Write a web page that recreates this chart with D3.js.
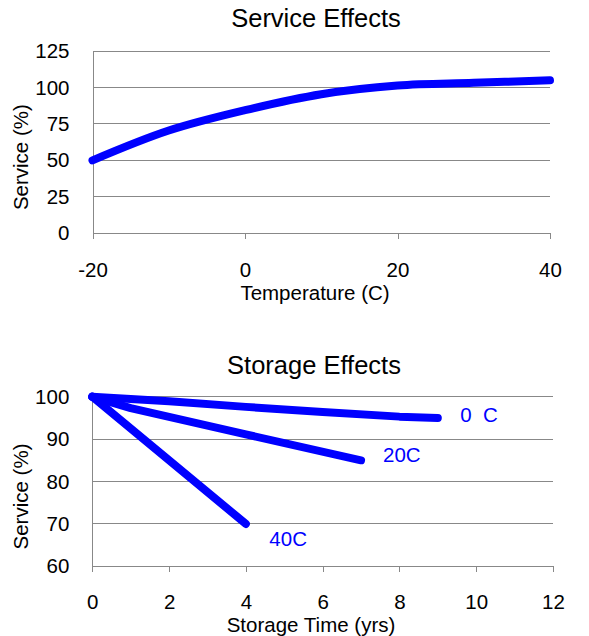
<!DOCTYPE html>
<html>
<head>
<meta charset="utf-8">
<script src="https://cdn.jsdelivr.net/npm/d3@7"></script>
<style>
  html, body { margin: 0; padding: 0; background: #fff; }
  svg { display: block; font-family: "Liberation Sans", Arial, sans-serif; }
</style>
</head>
<body>
<svg id="chart" width="589" height="636"></svg>
<script>
// ---- Data ----
// Chart 1: Service Effects
const tempTicks = [-20, 0, 20, 40];
const serviceTicks = [0, 25, 50, 75, 100, 125];
const temperature = [-20, -10, 0, 10, 20, 30, 40];
const serviceByTemp = [50, 70.5, 84.5, 95.5, 101.5, 103.3, 105];

// Chart 2: Storage Effects
const timeTicks = [0, 2, 4, 6, 8, 10, 12];
const storageServiceTicks = [60, 70, 80, 90, 100];
const seriesNames = ["0  C", "20C", "40C"];
const time0C = [0, 2, 4, 6, 8, 9];
const service0C = [100, 98.9, 97.6, 96.4, 95.3, 95];
const time20C = [0, 1, 4, 7];
const service20C = [100, 97.3, 91.1, 85];
const time40C = [0, 4];
const service40C = [100, 70];

// ---- Drawing ----
const svg = d3.select("#chart");
const GRID = "#888888";
const BLUE = "#0000ff";
const FS = 20.5;
const fmt = d => String(d);

function drawPanel(opts) {
  const g = svg.append("g");
  const x = opts.x, y = opts.y;
  const [x0, x1] = x.range();
  const [yb, yt] = y.range();

  // gridlines
  g.append("g").selectAll("line")
    .data(opts.yTicks.filter(v => v !== y.domain()[0]))
    .join("line")
    .attr("x1", x0).attr("x2", x1)
    .attr("y1", d => y(d)).attr("y2", d => y(d))
    .attr("stroke", GRID).attr("stroke-width", 1)
    .attr("shape-rendering", "crispEdges");

  // x axis
  const xa = g.append("g")
    .attr("transform", `translate(0,${yb})`)
    .call(d3.axisBottom(x).tickValues(opts.xTicks).tickFormat(fmt)
      .tickSize(6).tickPadding(opts.xPad).tickSizeOuter(0));
  xa.select(".domain").attr("stroke", GRID).attr("shape-rendering", "crispEdges");
  xa.selectAll(".tick line").attr("stroke", GRID).attr("shape-rendering", "crispEdges");
  xa.selectAll("text").attr("font-size", FS).attr("fill", "#000")
    .attr("font-family", "Liberation Sans, Arial, sans-serif");

  // y axis
  const ya = g.append("g")
    .attr("transform", `translate(${x0},0)`)
    .call(d3.axisLeft(y).tickValues(opts.yTicks).tickFormat(fmt)
      .tickSize(0).tickPadding(23).tickSizeOuter(0));
  ya.select(".domain").attr("stroke", GRID).attr("shape-rendering", "crispEdges");
  ya.selectAll("text").attr("font-size", FS).attr("fill", "#000").attr("dy", "0.32em")
    .attr("font-family", "Liberation Sans, Arial, sans-serif");

  // title
  g.append("text").attr("x", opts.titleX).attr("y", opts.titleY)
    .attr("text-anchor", "middle").attr("font-size", 25.5).attr("fill", "#000")
    .text(opts.title);

  // x axis title
  g.append("text").attr("x", opts.xTitleX).attr("y", opts.xTitleY)
    .attr("text-anchor", "middle").attr("font-size", FS).attr("fill", "#000")
    .text(opts.xTitle);

  // y axis title
  g.append("text")
    .attr("transform", `translate(28,${(yb + yt) / 2 + 15}) rotate(-90)`)
    .attr("text-anchor", "middle").attr("font-size", FS).attr("fill", "#000")
    .text(opts.yTitle);

  return g;
}

// Panel 1
const x1s = d3.scaleLinear().domain([-20, 40]).range([92.5, 550]);
const y1s = d3.scaleLinear().domain([0, 125]).range([233, 51.3]);
const g1 = drawPanel({
  x: x1s, y: y1s, xTicks: tempTicks, yTicks: serviceTicks, xPad: 23.5,
  title: "Service Effects", titleX: 316, titleY: 27.3,
  xTitle: "Temperature (C)", xTitleX: 315, xTitleY: 300,
  yTitle: "Service (%)"
});
const line1 = d3.line()
  .x(d => x1s(d[0])).y(d => y1s(d[1]))
  .curve(d3.curveCatmullRom.alpha(0.5));
g1.append("path")
  .datum(temperature.map((t, i) => [t, serviceByTemp[i]]))
  .attr("d", line1)
  .attr("fill", "none").attr("stroke", BLUE).attr("stroke-width", 8)
  .attr("stroke-linecap", "round").attr("stroke-linejoin", "round");

// Panel 2
const x2s = d3.scaleLinear().domain([0, 12]).range([92.3, 553]);
const y2s = d3.scaleLinear().domain([60, 100]).range([566.3, 396.7]);
const g2 = drawPanel({
  x: x2s, y: y2s, xTicks: timeTicks, yTicks: storageServiceTicks, xPad: 22.5,
  title: "Storage Effects", titleX: 314, titleY: 373.5,
  xTitle: "Storage Time (yrs)", xTitleX: 311, xTitleY: 631.5,
  yTitle: "Service (%)"
});
const series = [
  { name: seriesNames[0], t: time0C, v: service0C, dx: 22.5, dy: 4 },
  { name: seriesNames[1], t: time20C, v: service20C, dx: 22, dy: 1.5 },
  { name: seriesNames[2], t: time40C, v: service40C, dx: 23.5, dy: 22.5 }
];
const line2 = d3.line()
  .x(d => x2s(d[0])).y(d => y2s(d[1]))
  .curve(d3.curveLinear);
series.forEach(s => {
  const pts = s.t.map((t, i) => [t, s.v[i]]);
  g2.append("path").datum(pts).attr("d", line2)
    .attr("fill", "none").attr("stroke", BLUE).attr("stroke-width", 8)
    .attr("stroke-linecap", "round").attr("stroke-linejoin", "round");
  const last = pts[pts.length - 1];
  g2.append("text")
    .attr("x", x2s(last[0]) + s.dx).attr("y", y2s(last[1]) + s.dy)
    .attr("font-size", FS).attr("fill", BLUE)
    .style("white-space", "pre")
    .text(s.name);
});
</script>
</body>
</html>
